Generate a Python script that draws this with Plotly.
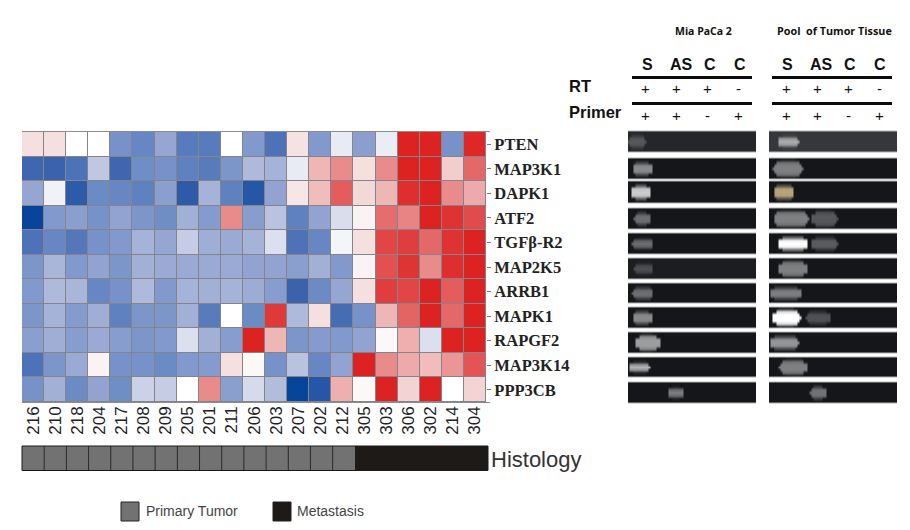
import plotly.graph_objects as go

W, H = 910, 530

samples = ["216","210","218","204","217","208","209","205","201","211","206","203","207","202","212","305","303","306","302","214","304"]
genes = ["PTEN","MAP3K1","DAPK1","ATF2","TGFβ-R2","MAP2K5","ARRB1","MAPK1","RAPGF2","MAP3K14","PPP3CB"]

pten    = [.15,.15,.0,.0,-.55,-.62,-.4,-.68,-.68,.0,-.5,-.72,.12,-.5,-.08,-.45,-.07,1,1,-.55,.98]
map3k1  = [-.78,-.8,-.72,-.22,-.78,-.58,-.55,-.65,-.68,-.52,-.3,-.33,-.08,.35,.55,.15,.55,1,1,.25,.7]
dapk1   = [-.4,-.05,-.85,-.6,-.62,-.65,-.45,-.85,-.33,-.65,-.88,-.42,.1,.32,.75,.2,.35,.95,1,.55,.4]
atf2    = [-1,-.5,-.45,-.55,-.42,-.52,-.58,-.35,-.48,.55,-.47,-.25,-.65,-.42,-.13,.05,.68,.58,1,.93,.82]
tgfbr2  = [-.72,-.62,-.7,-.55,-.5,-.33,-.4,-.2,-.36,-.38,-.33,-.12,-.72,-.62,-.04,.15,.85,.88,.7,.93,1]
map2k5  = [-.52,-.32,-.5,-.42,-.52,-.35,-.38,-.38,-.38,-.38,-.42,-.42,-.45,-.35,-.5,.05,.8,.92,.55,.95,1]
arrb1   = [-.5,-.3,-.32,-.62,-.55,-.3,-.5,-.33,-.35,-.33,-.37,-.47,-.8,-.6,-.4,.15,.88,.85,1,.75,1]
mapk1   = [-.52,-.33,-.48,-.36,-.65,-.52,-.52,-.35,-.68,.0,-.6,.9,-.3,.15,-.75,-.55,.35,.72,1,.7,1]
rapgf2  = [-.45,-.36,-.47,-.38,-.47,-.52,-.5,-.12,-.35,-.47,1,.35,-.52,-.48,-.5,-.42,.03,.38,-.12,1,1]
map3k14 = [-.72,-.52,-.38,.05,-.55,-.55,-.6,-.5,-.48,.15,.03,-.55,-.25,-.62,-.42,1,.55,.4,.32,.5,.78]
ppp3cb  = [-.55,-.35,-.6,-.42,-.58,-.18,-.2,.0,.55,-.45,-.14,-.28,-1,-.88,.38,.03,1,.22,1,.0,.22]
expression = [pten,map3k1,dapk1,atf2,tgfbr2,map2k5,arrb1,mapk1,rapgf2,map3k14,ppp3cb]

histology = [0]*15 + [1]*6

lane_labels = ["S","AS","C","C"]
rt_signs = ["+","+","+","-"]
primer_signs = ["+","+","-","+"]

# gel bands per gene: (lane start, lane end, brightness, profile)
mia_bands = [
    [(.45,1.03,.28,"mid")],
    [(.58,1.23,.5,"mid")],
    [(.52,1.19,.78,"mid")],
    [(.61,1.19,.38,"mid")],
    [(.55,1.26,.38,"thin")],
    [(.61,1.26,.25,"thin")],
    [(.55,1.26,.38,"mid")],
    [(.58,1.23,.5,"mid")],
    [(.65,1.48,.58,"tall")],
    [(.48,1.16,.68,"thin")],
    [(1.71,2.23,.45,"thin")],
]
pool_bands = [
    [(.71,1.39,.65,"thin")],
    [(.55,1.52,.45,"tall")],
    [(.58,1.26,.7,"mid")],
    [(.58,1.71,.45,"tall"),(1.77,2.65,.28,"tall")],
    [(.71,1.68,1.0,"mid"),(1.77,2.65,.3,"mid")],
    [(.71,1.68,.45,"tall")],
    [(.48,1.48,.45,"mid")],
    [(.52,1.45,1.0,"tall"),(1.61,2.42,.25,"mid")],
    [(.48,1.39,.55,"mid")],
    [(.74,1.68,.45,"tall")],
    [(1.74,2.32,.4,"mid")],
]
mia_background = [.07,.0,.0,.0,.0,.03,.0,.0,.0,.0,.0]
pool_background = [.14,.0,.0,.0,.0,.0,.0,.0,.0,.0,.0]

# ---- layout geometry
def fx(p): return p / W
def fy(p): return 1 - p / H

PROFILES = {"thin":[0,.1,.8,1,.8,.1,0], "mid":[0,.4,.95,1,.95,.4,0], "tall":[.1,.85,1,1,1,.85,.1]}
ROUNDING = [.22,.12,.03,0,.03,.12,.22]
GEL_TOPS = [131,158,181,208,233,258,283,307,332,357,382]
GEL_HEIGHTS = [21,21,22,21,21,21,20,21,21,20,21]
LANE_GRID = [0.2 + i*.0625 for i in range(80)]

blue_red = [[0,"#07459b"],[.1,"#3a62ad"],[.2,"#6b8bc5"],[.3,"#96a6d2"],[.4,"#c5cce3"],[.5,"#ffffff"],
            [.55,"#f6e6e6"],[.6,"#f3d8d8"],[.7,"#eeaaaa"],[.8,"#e88080"],[.9,"#e25050"],[1,"#dd2222"]]

fig = go.Figure()
fig.add_trace(go.Heatmap(z=expression, x=samples, y=genes, xaxis="x", yaxis="y", zmin=-1, zmax=1,
                         colorscale=blue_red, showscale=False, xgap=1, ygap=1, hoverongaps=False))
fig.add_trace(go.Heatmap(z=[histology], x=samples, y=["Histology"], xaxis="x4", yaxis="y4", zmin=0, zmax=1,
                         colorscale=[[0,"#737272"],[1,"#1e1a17"]], showscale=False))

def gel_trace(bands, bg, top, height, xa, ya, tint):
    rows = []
    for r in range(7):
        row = []
        for lane in LANE_GRID:
            v = bg
            for a, b, peak, prof in bands:
                if a + ROUNDING[r] <= lane <= b - ROUNDING[r]:
                    v = max(v, bg + (peak-bg)*PROFILES[prof][r])
            row.append(v)
        rows.append(row)
    return go.Heatmap(z=rows, x0=LANE_GRID[0], dx=.0625, y0=top+height/14, dy=height/7, xaxis=xa, yaxis=ya,
                      zmin=0, zmax=1, zsmooth="best", showscale=False,
                      colorscale=[[0,"#14161a"],[1,tint]])

for i in range(len(genes)):
    fig.add_trace(gel_trace(mia_bands[i], mia_background[i], GEL_TOPS[i], GEL_HEIGHTS[i], "x2", "y2", "#ffffff"))
    fig.add_trace(gel_trace(pool_bands[i], pool_background[i], GEL_TOPS[i], GEL_HEIGHTS[i], "x3", "y2",
                            "#ffe0a8" if genes[i]=="DAPK1" else "#ffffff"))

shapes = []
# grid colour behind the heatmap
shapes.append(dict(type="rect", xref="paper", yref="paper", x0=fx(22), x1=fx(486), y0=fy(403), y1=fy(131),
                   fillcolor="#84848c", line_width=0, layer="below"))
for yy in (131.5, 402.5):
    shapes.append(dict(type="line", xref="paper", yref="paper", x0=fx(22), x1=fx(490), y0=fy(yy), y1=fy(yy),
                       line=dict(color="#8c8c8c", width=1)))
# histology outline
for i in range(1,15):
    shapes.append(dict(type="line", xref="x4", yref="y4 domain", x0=i-.5, x1=i-.5, y0=0, y1=1,
                       line=dict(color="#2a2a2a", width=1)))
shapes.append(dict(type="rect", xref="x4 domain", yref="y4 domain", x0=0, x1=1, y0=0, y1=1,
                   line=dict(color="#1e1a17", width=1)))
# gel edge lines
for xa in ("x2","x3"):
    for t, h in zip(GEL_TOPS, GEL_HEIGHTS):
        for yy in (t, t+h):
            shapes.append(dict(type="line", xref=xa+" domain", yref="y2", x0=0, x1=1, y0=yy, y1=yy,
                               line=dict(color="#b4b4b4", width=1)))
# header rules
for x0 in (632, 772):
    for yy in (77.5, 103.5):
        shapes.append(dict(type="line", xref="paper", yref="paper", x0=fx(x0), x1=fx(x0+120), y0=fy(yy), y1=fy(yy),
                           line=dict(color="#0c0c0c", width=3)))
# legend swatches
for x0, c in ((121,"#737272"),(273,"#1e1a17")):
    shapes.append(dict(type="rect", xref="paper", yref="paper", x0=fx(x0), x1=fx(x0+18), y0=fy(521), y1=fy(502),
                       fillcolor=c, line=dict(color="#222222", width=1)))

SANS = "Liberation Sans"
def txt(x, y, t, size, color="#111111", font=SANS, anchor="center", bold=False):
    return dict(xref="paper", yref="paper", x=fx(x), y=fy(y), text=f"<b>{t}</b>" if bold else t, showarrow=False,
                xanchor=anchor, yanchor="middle", font=dict(family=font, size=size, color=color))

ann = [txt(703,31,"Mia PaCa 2",10.5,font="Open Sans",bold=True),
       txt(834.5,31,"Pool  of Tumor Tissue",10.8,font="Open Sans",bold=True),
       txt(567,85.5,"RT",16.5,anchor="left",bold=True),
       txt(567,111.5,"Primer",16.5,anchor="left",bold=True),
       txt(489,459,"Histology",22,color="#333333",anchor="left"),
       txt(144,511,"Primary Tumor",14,color="#444444",anchor="left"),
       txt(295,511,"Metastasis",14,color="#444444",anchor="left")]
for base, label_x in ((645,[647,681,710,740]),(786,[787,821,850,880])):
    for j in range(4):
        ann.append(txt(label_x[j],65,lane_labels[j],16,bold=True))
        ann.append(txt(base+31*j,89,rt_signs[j],15))
        ann.append(txt(base+31*j,115.5,primer_signs[j],15))

hidden = dict(visible=False, fixedrange=True)
fig.update_layout(
    width=W, height=H, autosize=False, margin=dict(l=0,r=0,t=0,b=0),
    paper_bgcolor="white", plot_bgcolor="white", showlegend=False,
    xaxis=dict(domain=[fx(22),fx(486)], type="category", tickangle=-90, ticklen=13, tickcolor="white", side="bottom",
               tickfont=dict(family=SANS,size=17,color="#222222"), showgrid=False, zeroline=False, anchor="y"),
    yaxis=dict(domain=[fy(402),fy(132)], type="category", autorange="reversed", side="right", ticks="outside", ticklen=4,
               tickcolor="#777777", tickfont=dict(family="Liberation Serif",size=16.5,color="#222222"), showgrid=False,
               zeroline=False, anchor="x", tickprefix="<b>", ticksuffix="</b>"),
    xaxis2=dict(domain=[fx(628),fx(756)], range=[.45,4.58], anchor="y2", **hidden),
    xaxis3=dict(domain=[fx(769),fx(897)], range=[.45,4.58], anchor="y2", **hidden),
    yaxis2=dict(domain=[0,1], range=[H,0], anchor="x2", **hidden),
    xaxis4=dict(domain=[fx(22),fx(488)], type="category", anchor="y4", **hidden),
    yaxis4=dict(domain=[fy(470.5),fy(446)], type="category", anchor="x4", **hidden),
    shapes=shapes, annotations=ann,
)
fig.update_traces(hoverinfo="skip")
fig.write_html("out.html", config={"displayModeBar":False},
               post_script="document.body.style.margin='0';")
